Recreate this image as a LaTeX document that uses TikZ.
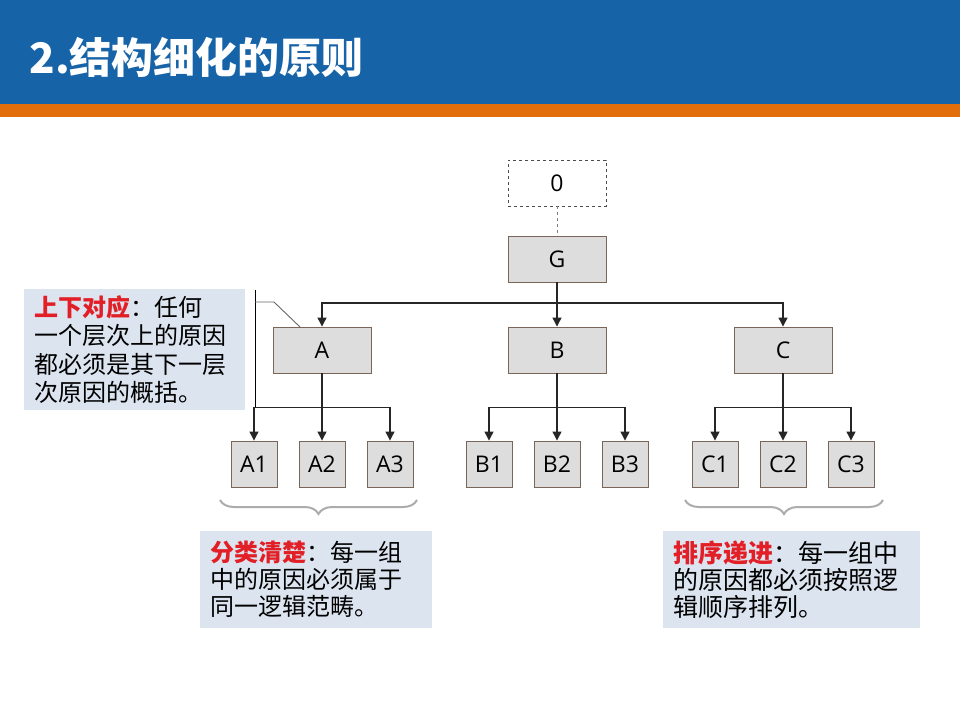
\documentclass[tikz,border=0pt]{standalone}
\usepackage{fontspec}
\setmainfont{Noto Sans CJK SC}
\newfontfamily\labelfont{Open Sans}
\usetikzlibrary{arrows.meta,decorations.pathreplacing}

\definecolor{hdrblue}{HTML}{1763A8}
\definecolor{hdrorange}{HTML}{E26E0B}
\definecolor{boxfill}{HTML}{DDDDDD}
\definecolor{boxline}{HTML}{7A6658}
\definecolor{notefill}{HTML}{DCE4EF}
\definecolor{keyred}{HTML}{E21F26}

\tikzset{
    unit/.style={draw=boxline, fill=boxfill, line width=0.9pt, minimum width=98pt,
        minimum height=46pt, inner sep=0pt, font=\labelfont\fontsize{23}{27}\selectfont},
    leaf/.style={unit, minimum width=46pt},
    link/.style={line width=1.2pt, draw=black!85},
    tip/.style={link, -{Triangle[width=9pt,length=9pt]}},
    note/.style={fill=notefill, inner xsep=10pt, inner ysep=0pt, align=left},
    grp/.style={decorate, decoration={brace, mirror, amplitude=14pt},
        draw=gray!65, line width=2pt},
}
\newcommand{\keyword}[1]{\textcolor{keyred}{\textbf{#1}}}

\begin{document}
\begin{tikzpicture}[x=1pt, y=-1pt]
    \useasboundingbox (0, 0) rectangle (960, 720);
    \fill[white] (0, 0) rectangle (960, 720);

    % header band
    \fill[hdrblue] (0, 0) rectangle (960, 104);
    \fill[hdrorange] (0, 104) rectangle (960, 117);
    \node[anchor=west, text=white, font=\fontsize{42}{50}\selectfont\bfseries] (title)
        at(26, 57) {2.结构细化的原则};

    % tree
    \node[unit, draw=black!70, dashed, fill=white] (zero) at(557, 183) {0};
    \node[unit] (G) at(557, 259) {G};
    \node[unit] (A) at(322, 350) {A};
    \node[unit] (B) at(557, 350) {B};
    \node[unit] (C) at(783, 350) {C};

    \foreach \p/\x in {A/254, B/489, C/715}
    {\foreach \k in {1,2,3}
        {\node[leaf] (\p\k) at(\x +68*\k -68, 464) {\p\k};}}

    \draw[dashed, draw=gray, line width=0.8pt] (zero) -- (G);

    \coordinate (Gbus) at(557, 303);
    \draw[link] (G) -- (Gbus);
    \foreach \p in {A,B,C}
    {\draw[tip] (Gbus) -| (\p);}

    \foreach \p in {A,B,C}
    {
        \path (\p.south) ++(0, 34) coordinate (\p bus);
        \draw[link] (\p) -- (\p bus);
        \foreach \k in {1,2,3}
        {\draw[tip] (\p bus) -| (\p\k);}
    }

    % braces under the groups
    \draw[grp] (220, 500) -- (417, 500);
    \draw[grp] (685, 500) -- (883, 500);

    % notes
    \node[note, minimum width=221pt, minimum height=121pt, text width=201pt,
        font=\fontsize{24}{28.5}\selectfont] (upnote) at(134.5, 349.5)
        {\keyword{上下对应}：任何\\一个层次上的原因\\都必须是其下一层\\次原因的概括。};
    \node[note, minimum width=232pt, minimum height=97pt, text width=212pt,
        font=\fontsize{24}{27}\selectfont] (grpnote) at(316, 579.5)
        {\keyword{分类清楚}：每一组\\中的原因必须属于\\同一逻辑范畴。};
    \node[note, minimum width=257pt, minimum height=97pt, text width=237pt,
        font=\fontsize{25}{27}\selectfont] (ordnote) at(791.5, 579.5)
        {\keyword{排序递进}：每一组中\\的原因都必须按照逻\\辑顺序排列。};

    % callout leader from the first note to A
    \coordinate (upfoot) at(255, 290);
    \coordinate (upknee) at(274, 302);
    \coordinate (uptouch) at(300, 327);
    \draw[line width=1pt] (upfoot) -- (upfoot |- Abus);
    \draw[draw=gray!80!black, line width=0.9pt] (upfoot |- upknee) -- (upknee) -- (uptouch);
\end{tikzpicture}
\end{document}
